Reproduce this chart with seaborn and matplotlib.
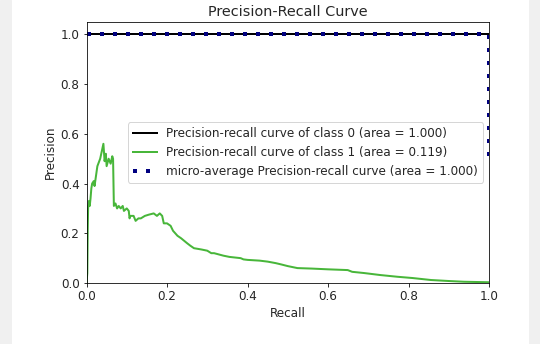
import matplotlib
matplotlib.use("Agg")
import matplotlib.pyplot as plt
from matplotlib.patches import Rectangle
import seaborn as sns
import pandas as pd

# ---- data ----
recall_c0 = [0.0, 1.0]
precision_c0 = [1.0, 1.0]

recall_c1 = [0.0, 0.002, 0.003, 0.004, 0.006, 0.008, 0.010, 0.012, 0.014, 0.018,
             0.020, 0.027, 0.034, 0.042, 0.045, 0.048, 0.050, 0.055, 0.060, 0.064,
             0.066, 0.068, 0.072, 0.076, 0.080, 0.085, 0.090, 0.093, 0.100, 0.105,
             0.107, 0.109, 0.117, 0.122, 0.129, 0.135, 0.145, 0.155, 0.167, 0.175,
             0.182, 0.188, 0.192, 0.200, 0.209, 0.215, 0.226, 0.235, 0.250, 0.258,
             0.267, 0.285, 0.300, 0.310, 0.317, 0.340, 0.355, 0.383, 0.390, 0.400,
             0.430, 0.450, 0.470, 0.483, 0.500, 0.524, 0.560, 0.600, 0.649, 0.660,
             0.690, 0.730, 0.773, 0.810, 0.856, 0.900, 0.938, 0.970, 1.0]
precision_c1 = [0.0, 0.04, 0.21, 0.30, 0.33, 0.31, 0.34, 0.38, 0.40, 0.41,
                0.39, 0.47, 0.50, 0.56, 0.49, 0.52, 0.47, 0.50, 0.48, 0.51,
                0.50, 0.31, 0.32, 0.30, 0.31, 0.30, 0.31, 0.29, 0.30, 0.29,
                0.26, 0.27, 0.27, 0.25, 0.26, 0.26, 0.27, 0.275, 0.28, 0.27,
                0.28, 0.27, 0.24, 0.24, 0.23, 0.21, 0.19, 0.18, 0.16, 0.15,
                0.14, 0.135, 0.13, 0.12, 0.12, 0.11, 0.105, 0.10, 0.095, 0.093,
                0.09, 0.086, 0.08, 0.075, 0.068, 0.06, 0.058, 0.055, 0.052, 0.045,
                0.04, 0.032, 0.025, 0.02, 0.012, 0.008, 0.005, 0.004, 0.003]

recall_micro = [0.0, 1.0, 1.0]
precision_micro = [1.0, 1.0, 0.5]

labels = ["Precision-recall curve of class 0 (area = 1.000)",
          "Precision-recall curve of class 1 (area = 0.119)",
          "micro-average Precision-recall curve (area = 1.000)"]
x_ticks = [0.0, 0.2, 0.4, 0.6, 0.8, 1.0]
y_ticks = [0.0, 0.2, 0.4, 0.6, 0.8, 1.0]

# ---- figure ----
fig = plt.figure(figsize=(540 / 72, 344 / 72), dpi=72)
fig.patches.append(Rectangle((0, 0), 11 / 540, 1, transform=fig.transFigure,
                             color="#f0f0f0", zorder=0))
fig.patches.append(Rectangle((529 / 540, 0), 11 / 540, 1, transform=fig.transFigure,
                             color="#f0f0f0", zorder=0))
ax = fig.add_axes([86.5 / 540, 61 / 344, 402.5 / 540, 261 / 344])

df0 = pd.DataFrame({"Recall": recall_c0, "Precision": precision_c0})
df1 = pd.DataFrame({"Recall": recall_c1, "Precision": precision_c1})
dfm = pd.DataFrame({"Recall": recall_micro, "Precision": precision_micro})

sns.lineplot(data=df0, x="Recall", y="Precision", ax=ax, color="black", lw=2,
             label=labels[0], sort=False, estimator=None)
sns.lineplot(data=df1, x="Recall", y="Precision", ax=ax, color="#48b63a", lw=2,
             label=labels[1], sort=False, estimator=None)
sns.lineplot(data=dfm, x="Recall", y="Precision", ax=ax, color="navy", lw=4,
             linestyle=(0, (1, 2.25)), label=labels[2], sort=False, estimator=None)

txt = "#262626"
ax.set_xlim(0.0, 1.0)
ax.set_ylim(0.0, 1.05)
ax.set_xticks(x_ticks)
ax.set_yticks(y_ticks)
ax.set_xlabel("Recall", fontsize=12, color=txt)
ax.set_ylabel("Precision", fontsize=12, color=txt)
ax.set_title("Precision-Recall Curve", fontsize=14.4, color=txt)
ax.tick_params(labelsize=12, labelcolor=txt)
ax.legend(loc="center right", fontsize=12)
for t in ax.get_legend().get_texts():
    t.set_color(txt)

fig.savefig("out.png", dpi=72)
